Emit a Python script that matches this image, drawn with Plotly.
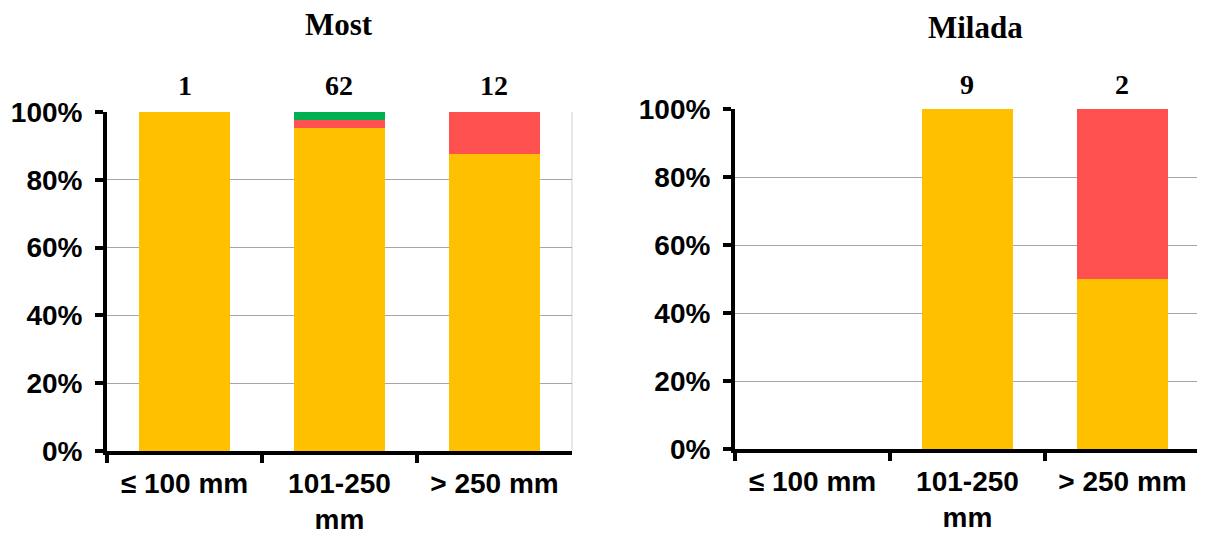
import plotly.graph_objects as go

categories = ["≤ 100 mm", "101-250 mm", "> 250 mm"]
tick_labels = ["≤ 100 mm", "101-250<br>mm", "> 250 mm"]

most_orange = [1.0, 0.952, 0.875]
most_red = [0.0, 0.024, 0.125]
most_green = [0.0, 0.024, 0.0]
most_counts = ["1", "62", "12"]

milada_orange = [0.0, 1.0, 0.5]
milada_red = [0.0, 0.0, 0.5]
milada_green = [0.0, 0.0, 0.0]
milada_counts = ["", "9", "2"]

ORANGE = "#FFC000"
RED = "#FF5050"
GREEN = "#00B050"

fig = go.Figure()

panels = [
    ("x", "y", most_orange, most_red, most_green),
    ("x2", "y2", milada_orange, milada_red, milada_green),
]
for xa, ya, o, r, g in panels:
    for vals, col in [(o, ORANGE), (r, RED), (g, GREEN)]:
        fig.add_trace(go.Bar(x=categories, y=vals, marker=dict(color=col, line=dict(width=0)),
                             xaxis=xa, yaxis=ya, showlegend=False, hoverinfo="skip"))

tickfont = dict(family="Liberation Sans, Arial, sans-serif", size=28, color="black", weight="bold")

xcommon = dict(type="category", categoryorder="array", categoryarray=categories,
               tickvals=categories, ticktext=tick_labels, tickson="boundaries",
               showline=True, linecolor="black", linewidth=4, ticks="outside",
               ticklen=8, tickwidth=4, tickcolor="black", showgrid=False,
               tickfont=tickfont, range=[-0.5, 2.5], automargin=False,
               ticklabelstandoff=4)
ycommon = dict(range=[0, 1], dtick=0.2, tickformat=".0%", showline=True, linecolor="black",
               linewidth=4, ticks="outside", ticklen=8, tickwidth=4, tickcolor="black",
               showgrid=True, gridcolor="#A6A6A6", gridwidth=1, zeroline=False,
               tickfont=tickfont, automargin=False, ticklabelstandoff=7)

fig.update_layout(
    width=1205, height=533, autosize=False,
    margin=dict(l=0, r=0, t=0, b=0, pad=0, autoexpand=False),
    paper_bgcolor="white", plot_bgcolor="white",
    showlegend=False,
    barmode="stack", bargap=0.41,
    xaxis=dict(domain=[0.0822, 0.468], anchor="y", **xcommon),
    yaxis=dict(domain=[0.1689, 0.8049], anchor="x", **ycommon),
    xaxis2=dict(domain=[0.6033, 0.9892], anchor="y2", **xcommon),
    yaxis2=dict(domain=[0.1726, 0.8105], anchor="x2", **ycommon),
)

titlefont = dict(family="Liberation Serif, Times New Roman, serif", size=31, color="black", weight="bold")
countfont = dict(family="Liberation Serif, Times New Roman, serif", size=28, color="black", weight="bold")

fig.add_annotation(text="Most", x=0.2747, y=0.969, xref="paper", yref="paper",
                   showarrow=False, font=titlefont, xanchor="center", yanchor="middle")
fig.add_annotation(text="Milada", x=0.8025, y=0.9625, xref="paper", yref="paper",
                   showarrow=False, font=titlefont, xanchor="center", yanchor="middle")

for cat, c in zip(categories, most_counts):
    if c:
        fig.add_annotation(text=c, x=cat, y=0.8537, xref="x", yref="paper", showarrow=False,
                           font=countfont, xanchor="center", yanchor="middle")
for cat, c in zip(categories, milada_counts):
    if c:
        fig.add_annotation(text=c, x=cat, y=0.8574, xref="x2", yref="paper", showarrow=False,
                           font=countfont, xanchor="center", yanchor="middle")

# light plot-area border at the right edge
for xr, yr in [("x domain", "y domain"), ("x2 domain", "y2 domain")]:
    fig.add_shape(type="line", x0=1, x1=1, y0=0, y1=1, xref=xr, yref=yr,
                  line=dict(color="#D0D0D0", width=1), layer="below")

fig.write_html("out.html")
